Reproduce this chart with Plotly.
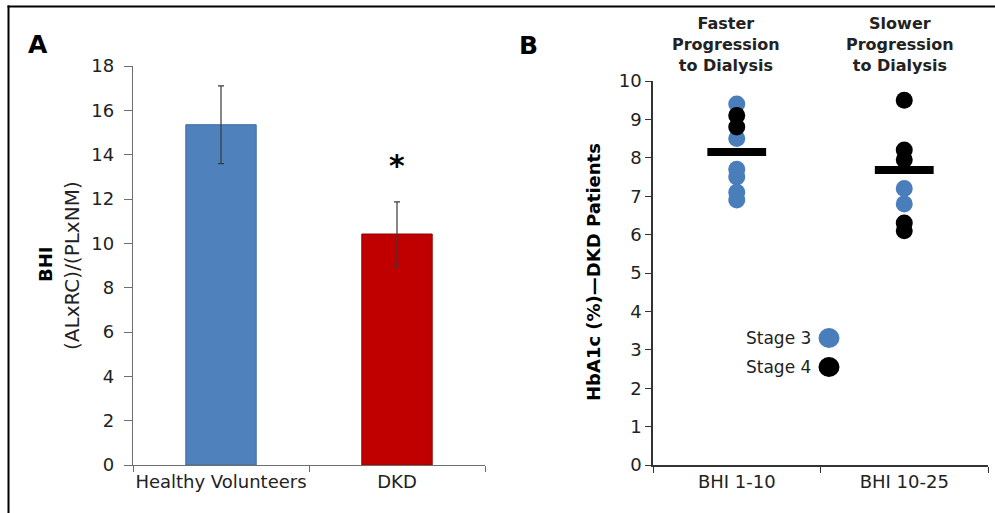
import plotly.graph_objects as go

# ---------------- data ----------------
# Panel A
groups_a = ["Healthy Volunteers", "DKD"]
bhi_mean = [15.35, 10.42]
bhi_err = [1.75, 1.45]
bar_colors = ["#4F81BD", "#C00000"]
bar_edges = ["#3C6A9E", "#8E0000"]
y_ticks_a = [0, 2, 4, 6, 8, 10, 12, 14, 16, 18]

# Panel B
groups_b = ["BHI 1-10", "BHI 10-25"]
stage3_x = ["BHI 1-10", "BHI 1-10", "BHI 1-10", "BHI 1-10", "BHI 1-10", "BHI 1-10",
            "BHI 10-25", "BHI 10-25"]
stage3_y = [9.4, 8.5, 7.7, 7.5, 7.1, 6.9, 7.2, 6.8]
stage4_x = ["BHI 1-10", "BHI 1-10",
            "BHI 10-25", "BHI 10-25", "BHI 10-25", "BHI 10-25", "BHI 10-25"]
stage4_y = [9.1, 8.8, 9.5, 8.2, 7.95, 6.3, 6.1]
mean_b = [8.15, 7.68]
y_ticks_b = [0, 1, 2, 3, 4, 5, 6, 7, 8, 9, 10]
legend_labels = ["Stage 3", "Stage 4"]
stage_colors = ["#4A7EBB", "#000000"]

W, H = 995, 513
FONT = "DejaVu Sans"

def px(x):
    return x / W

def py(y):
    return 1 - y / H

fig = go.Figure()

# Panel A bars
fig.add_trace(go.Bar(
    x=groups_a, y=bhi_mean, width=0.4,
    marker=dict(color=bar_colors, line=dict(color=bar_edges, width=1)),
    error_y=dict(type="data", array=bhi_err, color="#3a3a3a", thickness=1.2, width=3),
    xaxis="x", yaxis="y", showlegend=False, hoverinfo="x+y",
))

# Panel B points
fig.add_trace(go.Scatter(
    x=stage3_x, y=stage3_y, mode="markers",
    marker=dict(color=stage_colors[0], size=17),
    xaxis="x2", yaxis="y2", showlegend=False,
))
fig.add_trace(go.Scatter(
    x=stage4_x, y=stage4_y, mode="markers",
    marker=dict(color=stage_colors[1], size=17),
    xaxis="x2", yaxis="y2", showlegend=False,
))
fig.add_trace(go.Scatter(
    x=groups_b, y=mean_b, mode="markers",
    marker=dict(symbol="line-ew", size=42, line=dict(color="black", width=8)),
    xaxis="x2", yaxis="y2", showlegend=False,
))

tickfont = dict(family=FONT, size=18, color="#222222")
axis_common = dict(showgrid=False, zeroline=False, showline=True, ticks="outside",
                   tickfont=tickfont, fixedrange=True, automargin=False, tickangle=0)

fig.update_layout(
    width=W, height=H, autosize=False,
    margin=dict(l=0, r=0, t=0, b=0, pad=0),
    paper_bgcolor="white", plot_bgcolor="white",
    font=dict(family=FONT, color="#222222"),
    showlegend=False,
    xaxis=dict(domain=[px(133), px(485)], type="category", tickson="boundaries",
               linecolor="#6e6e6e", linewidth=1.3, tickcolor="#6e6e6e", ticklen=6,
               anchor="y", **axis_common),
    yaxis=dict(domain=[py(465), py(66)], range=[0, 18], tickvals=y_ticks_a,
               linecolor="#6e6e6e", linewidth=1.3, tickcolor="#6e6e6e", ticklen=8,
               ticklabelstandoff=6, anchor="x", **axis_common),
    xaxis2=dict(domain=[px(653), px(988)], type="category", tickson="boundaries",
                linecolor="#333333", linewidth=1.5, tickcolor="#333333", ticklen=6,
                range=[-0.5, 1.5], anchor="y2", **axis_common),
    yaxis2=dict(domain=[py(465), py(81)], range=[0, 10], tickvals=y_ticks_b,
                linecolor="#333333", linewidth=1.5, tickcolor="#333333", ticklen=6,
                anchor="x2", **axis_common),
)

annotations = [
    dict(text="<b>A</b>", x=px(38), y=py(44), font=dict(size=25, color="black")),
    dict(text="<b>B</b>", x=px(528), y=py(45), font=dict(size=25, color="black")),
    dict(text="<b>BHI</b>", x=px(45), y=py(265), textangle=-90,
         font=dict(size=18, color="black")),
    dict(text="(ALxRC)/(PLxNM)", x=px(72), y=py(266), textangle=-90,
         font=dict(size=20, color="#222222")),
    dict(text="<b>HbA1c (%)\u2014DKD Patients</b>", x=px(593), y=py(272), textangle=-90,
         font=dict(size=18, color="black")),
    dict(text="<b>Faster<br>Progression<br>to Dialysis</b>", x=px(726), y=py(44),
         font=dict(size=16, color="#222222")),
    dict(text="<b>Slower<br>Progression<br>to Dialysis</b>", x=px(900), y=py(44),
         font=dict(size=16, color="#222222")),
]
for a in annotations:
    a.update(xref="paper", yref="paper", showarrow=False, xanchor="center", yanchor="middle")

# significance star above DKD bar
annotations.append(dict(text="<b>*</b>", x="DKD", y=bhi_mean[1] + bhi_err[1] + 1.65,
                        xref="x", yref="y", showarrow=False, yanchor="middle",
                        font=dict(size=30, color="black")))

# legend (text left, dot right, as in the original)
legend_rows = [338, 367]
shapes = []
for lab, col, yy in zip(legend_labels, stage_colors, legend_rows):
    annotations.append(dict(text=lab, x=px(813), y=py(yy), xref="paper", yref="paper",
                            showarrow=False, xanchor="right", yanchor="middle",
                            font=dict(size=17, color="#222222")))
    shapes.append(dict(type="circle", xref="paper", yref="paper",
                       xsizemode="pixel", ysizemode="pixel",
                       xanchor=px(829), yanchor=py(yy),
                       x0=-10.5, x1=10.5, y0=-10, y1=10,
                       fillcolor=col, line=dict(width=0)))

# outer frame (top and left edges visible in the original)
shapes.append(dict(type="line", xref="paper", yref="paper",
                   x0=px(7.5), x1=1.0, y0=py(6.5), y1=py(6.5),
                   line=dict(color="black", width=2)))
shapes.append(dict(type="line", xref="paper", yref="paper",
                   x0=px(8.5), x1=px(8.5), y0=0, y1=py(5.5),
                   line=dict(color="black", width=2)))

fig.update_layout(annotations=annotations, shapes=shapes)

fig.write_html("out.html", config={"displayModeBar": False},
               post_script="document.body.style.margin='0px';document.body.style.overflow='hidden';")
